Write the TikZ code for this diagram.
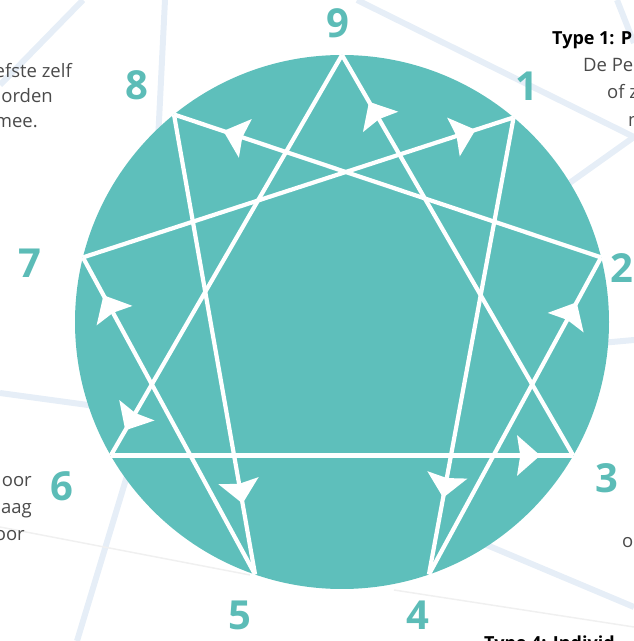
\documentclass[tikz,border=0pt]{standalone}
\usepackage{fontspec}
\setmainfont{Open Sans}
\usepackage{tikz}
\usetikzlibrary{arrows.meta,decorations.markings,calc,positioning}
\definecolor{ennteal}{HTML}{5EBFBB}
\definecolor{numteal}{HTML}{5CBCB7}
\definecolor{faint}{HTML}{E6EEF7}
\definecolor{txtgray}{HTML}{4A4A4A}
\tikzstyle{bgline} = [faint, line width=6pt]
\tikzstyle{thinline} = [black!6, line width=1.5pt]
\tikzstyle{enline} = [white, line width=4.2pt]
\tikzstyle{num} = [numteal, font=\fontsize{40}{40}\selectfont\bfseries, inner sep=0pt]
\tikzstyle{txt} = [txtgray, font=\fontsize{18.5}{18.5}\selectfont, inner sep=0pt]
\tikzstyle{head} = [black, font=\fontsize{18}{18}\selectfont\bfseries, inner sep=0pt]
\tikzset{flow/.style={postaction={decorate,decoration={markings,
  mark=at position -#1 with {\arrow{Stealth[length=23pt,width=40pt,inset=3pt]}}}}}}

\begin{document}
\begin{tikzpicture}[x=1pt,y=1pt]
\useasboundingbox (0,0) rectangle (634,641);
\clip (0,0) rectangle (634,641);

% background lines
\draw[bgline] (83,641) -- (0,556);
\draw[bgline] (165,641) -- (158,500);
\draw[bgline] (357,641) -- (634,504);
\draw[bgline] (617,641) -- (634,598);
\draw[bgline] (540,437) -- (634,504);
\draw[bgline] (0,248) -- (110,233);
\draw[bgline] (130,175) -- (77,0);
\draw[bgline] (590,297) -- (634,301);
\draw[bgline] (470,103) -- (634,34);
\draw[thinline] (0,114) -- (250,66);
\draw[thinline] (394,51) -- (634,14);

% the circle
\coordinate (c) at (342,319);
\fill[ennteal] (c) circle (267);
\foreach \n/\a in {9/90,1/50,2/14,3/-30,4/-71,5/-109,6/-150,7/166,8/129}
  \coordinate (p\n) at ($(c)+(\a:267)$);

% triangle
\draw[enline,flow=54pt] (p3) -- (p9);
\draw[enline,flow=29pt] (p9) -- (p6);
\draw[enline,flow=33pt] (p6) -- (p3);
% hexad
\draw[enline,flow=78pt] (p1) -- (p4);
\draw[enline,flow=51pt] (p4) -- (p2);
\draw[enline,flow=52pt] (p2) -- (p8);
\draw[enline,flow=72pt] (p8) -- (p5);
\draw[enline,flow=43pt] (p5) -- (p7);
\draw[enline,flow=40pt] (p7) -- (p1);

% numbers
\node[num] (n9) at (338,618) {9};
\node[num] (n1) at (527,555) {1};
\node[num] (n2) at (622,373) {2};
\node[num] (n3) at (607,163) {3};
\node[num] (n4) at (418,26) {4};
\node[num] (n5) at (240,26) {5};
\node[num] (n6) at (62,155) {6};
\node[num] (n7) at (30,378) {7};
\node[num] (n8) at (137,556) {8};

% texts at the edges
\node[txt, anchor=base east] (tl1) at (72,563) {efste zelf};
\node[txt, anchor=base east] (tl2) at (53,538) {orden};
\node[txt, anchor=base east] (tl3) at (38,513) {mee.};
\node[txt, anchor=base east] (bl1) at (32,154) {oor};
\node[txt, anchor=base east] (bl2) at (32,127) {aag};
\node[txt, anchor=base east] (bl3) at (25,100) {oor};
\node[head, anchor=base west] (tr0) at (552,596) {Type 1: P};
\node[txt, anchor=base west] (tr1) at (583,569) {De Pe};
\node[txt, anchor=base west] (tr2) at (607,542) {of z};
\node[txt, anchor=base west] (tr3) at (628,514) {n};
\node[txt, anchor=base west] (br1) at (622,93) {o};
\node[head, anchor=base west] (bt0) at (484,-9) {Type 4: Individ};
\end{tikzpicture}
\end{document}
